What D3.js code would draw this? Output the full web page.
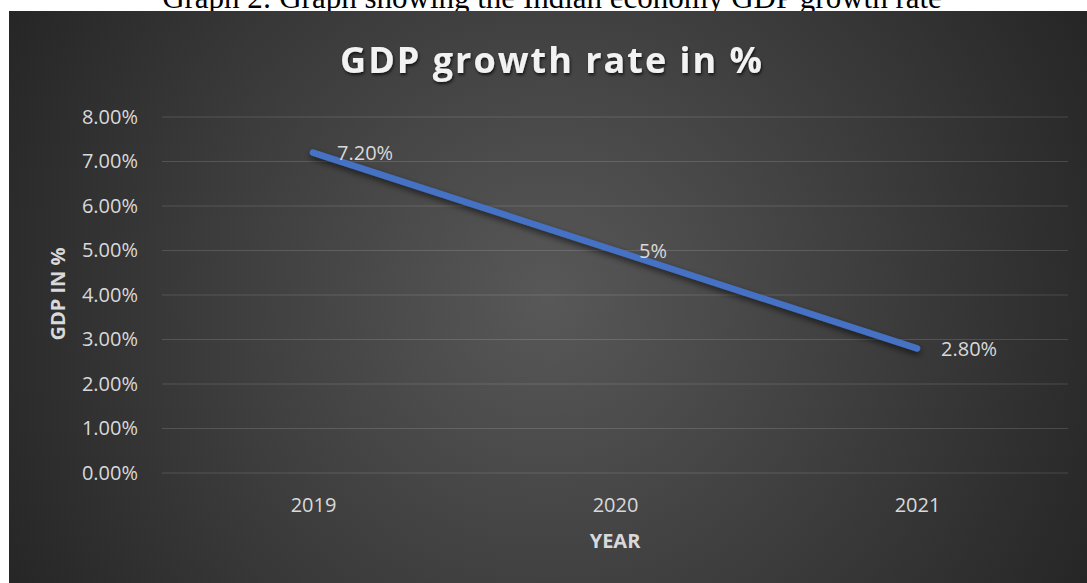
<!DOCTYPE html>
<html>
<head>
<meta charset="utf-8">
<script src="https://cdn.jsdelivr.net/npm/d3@7"></script>
<style>
  body { margin: 0; background: #fff; }
  svg { display: block; }
</style>
</head>
<body>
<div id="container"></div>
<script>
const years = ['2019', '2020', '2021'];
const gdpGrowth = [0.072, 0.05, 0.028];
const pointLabels = ['7.20%', '5%', '2.80%'];
const yTicks = [0, 0.01, 0.02, 0.03, 0.04, 0.05, 0.06, 0.07, 0.08];

const width = 1087, height = 583;
const margin = { top: 117, right: 19, bottom: 110, left: 162 };

const svg = d3.select('#container')
  .append('svg')
  .attr('width', width)
  .attr('height', height);

const defs = svg.append('defs');
const grad = defs.append('radialGradient')
  .attr('id', 'bg')
  .attr('gradientUnits', 'userSpaceOnUse')
  .attr('cx', 548).attr('cy', 300).attr('r', 620);
grad.append('stop').attr('offset', 0).attr('stop-color', '#585858');
grad.append('stop').attr('offset', 1).attr('stop-color', '#252525');

defs.append('filter').attr('id', 'lineShadow')
  .attr('x', '-10%').attr('y', '-50%').attr('width', '120%').attr('height', '200%')
  .append('feDropShadow')
  .attr('dx', 0).attr('dy', 3).attr('stdDeviation', 3)
  .attr('flood-color', '#000').attr('flood-opacity', 0.6);

defs.append('filter').attr('id', 'textShadow')
  .append('feDropShadow')
  .attr('dx', 1).attr('dy', 2).attr('stdDeviation', 1.5)
  .attr('flood-color', '#000').attr('flood-opacity', 0.7);

// caption from the document, partly hidden under the chart (as in the source)
svg.append('text')
  .attr('x', 552)
  .attr('y', 8)
  .attr('text-anchor', 'middle')
  .style('font-family', '"Liberation Serif", "Times New Roman", serif')
  .style('font-size', '31px')
  .attr('fill', '#000')
  .text('Graph 2: Graph showing the Indian economy GDP growth rate');

svg.append('rect')
  .attr('x', 9).attr('y', 11)
  .attr('width', width - 9).attr('height', height - 11)
  .attr('fill', 'url(#bg)');

const x = d3.scalePoint()
  .domain(years)
  .range([margin.left, width - margin.right])
  .padding(0.5);
const y = d3.scaleLinear()
  .domain([0, 0.08])
  .range([473, margin.top]);

const font = '"Open Sans", sans-serif';
const labelColor = '#d9d9d9';

// gridlines
svg.append('g')
  .selectAll('line')
  .data(yTicks)
  .join('line')
  .attr('x1', margin.left)
  .attr('x2', width - margin.right)
  .attr('y1', d => y(d))
  .attr('y2', d => y(d))
  .attr('stroke', '#ffffff')
  .attr('stroke-opacity', 0.14)
  .attr('stroke-width', 1.2);

const yAxis = svg.append('g')
  .attr('transform', `translate(${margin.left},0)`)
  .call(d3.axisLeft(y).tickValues(yTicks).tickFormat(d3.format('.2%')).tickSize(0).tickPadding(24));
yAxis.select('.domain').remove();
yAxis.selectAll('text')
  .style('font-family', font)
  .style('font-size', '20px')
  .attr('fill', labelColor);

const xAxis = svg.append('g')
  .attr('transform', `translate(0,${y(0)})`)
  .call(d3.axisBottom(x).tickSize(0).tickPadding(25));
xAxis.select('.domain').remove();
xAxis.selectAll('text')
  .style('font-family', font)
  .style('font-size', '20px')
  .attr('fill', labelColor);

const line = d3.line()
  .x((d, i) => x(years[i]))
  .y(d => y(d));

svg.append('path')
  .datum(gdpGrowth)
  .attr('fill', 'none')
  .attr('stroke', '#4472c4')
  .attr('stroke-width', 6.5)
  .attr('stroke-linecap', 'round')
  .attr('stroke-linejoin', 'round')
  .attr('filter', 'url(#lineShadow)')
  .attr('d', line);

svg.append('g')
  .selectAll('text')
  .data(gdpGrowth)
  .join('text')
  .attr('x', (d, i) => x(years[i]) + 24)
  .attr('y', d => y(d))
  .attr('dominant-baseline', 'central')
  .style('font-family', font)
  .style('font-size', '20px')
  .attr('fill', labelColor)
  .text((d, i) => pointLabels[i]);

// titles
svg.append('text')
  .attr('x', 552)
  .attr('y', 73)
  .attr('text-anchor', 'middle')
  .style('font-family', font)
  .style('font-size', '36px')
  .style('font-weight', 'bold')
  .style('letter-spacing', '2px')
  .attr('fill', '#f2f2f2')
  .attr('filter', 'url(#textShadow)')
  .text('GDP growth rate in %');

svg.append('text')
  .attr('x', (margin.left + width - margin.right) / 2)
  .attr('y', 548)
  .attr('text-anchor', 'middle')
  .style('font-family', font)
  .style('font-size', '20px')
  .style('font-weight', 'bold')
  .attr('fill', labelColor)
  .text('YEAR');

svg.append('text')
  .attr('transform', 'translate(57,294) rotate(-90)')
  .attr('text-anchor', 'middle')
  .attr('dominant-baseline', 'central')
  .style('font-family', font)
  .style('font-size', '20px')
  .style('font-weight', 'bold')
  .attr('fill', labelColor)
  .text('GDP IN %');
</script>
</body>
</html>
